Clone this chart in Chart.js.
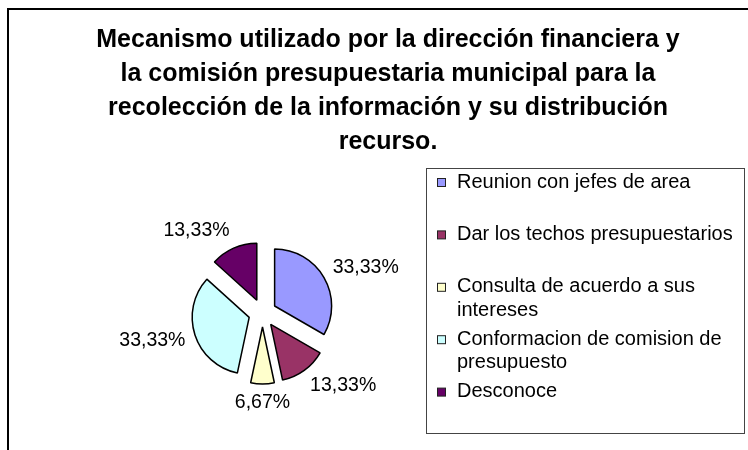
<!DOCTYPE html>
<html>
<head>
<meta charset="utf-8">
<script src="https://cdn.jsdelivr.net/npm/chart.js@4.4.0/dist/chart.umd.min.js"></script>
<style>
    html, body { margin: 0; padding: 0; background: #fff; }
    body { width: 748px; height: 450px; overflow: hidden; position: relative; }
    /* outer chart frame, its right and bottom edges fall outside the picture */
    #frame { position: absolute; left: 7px; top: 8px; width: 780px; height: 480px; border: 2px solid #000; }
    #pie { position: absolute; left: 0; top: 0; }
</style>
</head>
<body>
<div id="frame"></div>
<canvas id="pie" width="748" height="458"></canvas>
<script>
// Chart data
const titleLines = [
    'Mecanismo utilizado por la dirección financiera y',
    'la comisión presupuestaria municipal para la',
    'recolección de la información y su distribución',
    'recurso.'
];
const categories = [
    'Reunion con jefes de area',
    'Dar los techos presupuestarios',
    'Consulta de acuerdo a sus intereses',
    'Conformacion de comision de presupuesto',
    'Desconoce'
];
const percentages = [33.33, 13.33, 6.67, 33.33, 13.33];
const sliceColors = ['#9999FF', '#993366', '#FFFFCC', '#CCFFFF', '#660066'];

const FONT = "'Liberation Sans', Arial, sans-serif";
const EXPLODE = 14;        // how far each slice is pulled out
const LABEL_GAP = 10;      // gap between slice edge and its label
const LEGEND_SPACE = 251;  // width reserved on the right for the legend

Chart.defaults.font.family = FONT;

// Pull every slice out along its middle angle (without growing its radius)
const explodePlugin = {
    id: 'explode',
    afterDatasetsUpdate(chart) {
        chart.getDatasetMeta(0).data.forEach(arc => {
            if (arc.explodeWrapped) return;
            const baseDraw = arc.draw;
            arc.draw = function (ctx) {
                const mid = (this.startAngle + this.endAngle) / 2;
                ctx.save();
                ctx.translate(Math.cos(mid) * EXPLODE, Math.sin(mid) * EXPLODE);
                baseDraw.call(this, ctx);
                ctx.restore();
            };
            arc.explodeWrapped = true;
        });
    }
};

// Percentage labels outside each slice
const sliceLabels = {
    id: 'sliceLabels',
    afterDatasetsDraw(chart) {
        const ctx = chart.ctx;
        const meta = chart.getDatasetMeta(0);
        ctx.save();
        ctx.font = '19.5px ' + FONT;
        ctx.fillStyle = '#000';
        ctx.textAlign = 'center';
        ctx.textBaseline = 'middle';
        meta.data.forEach((arc, i) => {
            const mid = (arc.startAngle + arc.endAngle) / 2;
            const dx = Math.cos(mid), dy = Math.sin(mid);
            const r = arc.outerRadius + EXPLODE + LABEL_GAP;
            const text = percentages[i].toFixed(2).replace('.', ',') + '%';
            const w = ctx.measureText(text).width;
            const sx = Math.abs(dx) < 0.1 ? 0 : Math.sign(dx);
            ctx.fillText(text, arc.x + dx * r + sx * w / 2, arc.y + dy * r + dy * 9);
        });
        ctx.restore();
    }
};

// Boxed legend on the right, with wrapped labels
function wrapText(ctx, text, maxWidth) {
    const words = text.split(' ');
    const lines = [];
    let line = '';
    words.forEach(word => {
        const test = line ? line + ' ' + word : word;
        if (line && ctx.measureText(test).width > maxWidth) {
            lines.push(line);
            line = word;
        } else {
            line = test;
        }
    });
    lines.push(line);
    return lines;
}

function drawLegend(chart, box) {
    const ctx = chart.ctx;
    const left = box.right - 4 - 318;
    const top = box.top;
    const width = 318, height = 265;
    ctx.save();
    ctx.strokeStyle = '#444';
    ctx.lineWidth = 1;
    ctx.strokeRect(left + 0.5, top + 0.5, width, height);

    ctx.font = '20px ' + FONT;
    ctx.textBaseline = 'middle';
    ctx.textAlign = 'left';
    const slot = height / categories.length;
    categories.forEach((label, i) => {
        const y = top + slot * i + 14 - i * 0.6;
        ctx.fillStyle = sliceColors[i];
        ctx.fillRect(left + 11.5, y - 3.5, 8, 8);
        ctx.strokeStyle = '#222';
        ctx.strokeRect(left + 11.5, y - 3.5, 8, 8);
        ctx.fillStyle = '#000';
        wrapText(ctx, label, 285).forEach((ln, k) => {
            ctx.fillText(ln, left + 31, y + k * 23.5);
        });
    });
    ctx.restore();
}

const legendPlugin = {
    id: 'boxedLegend',
    beforeInit(chart) {
        const box = {
            position: 'right',
            weight: 1000,
            fullSize: false,
            options: {},
            width: 0, height: 0, left: 0, top: 0, right: 0, bottom: 0,
            isHorizontal() { return false; },
            update(maxWidth, maxHeight) {
                this.width = LEGEND_SPACE;
                this.height = maxHeight;
            },
            draw() { drawLegend(chart, this); }
        };
        Chart.layouts.addBox(chart, box);
    }
};

const ctx = document.getElementById('pie').getContext('2d');
const pieChart = new Chart(ctx, {
    type: 'pie',
    data: {
        labels: categories,
        datasets: [{
            data: percentages,
            backgroundColor: sliceColors,
            borderColor: '#000',
            borderWidth: 1.5
        }]
    },
    options: {
        responsive: false,
        animation: false,
        events: [],
        radius: 57,
        layout: { padding: { left: 28, right: 0, top: 0, bottom: 0 } },
        plugins: {
            legend: { display: false },
            tooltip: { enabled: false },
            title: {
                display: true,
                text: titleLines,
                color: '#000',
                font: { family: FONT, size: 25, weight: 'bold', lineHeight: 34 / 25 },
                padding: { top: 23, bottom: 9 }
            }
        }
    },
    plugins: [explodePlugin, sliceLabels, legendPlugin]
});
</script>
</body>
</html>
